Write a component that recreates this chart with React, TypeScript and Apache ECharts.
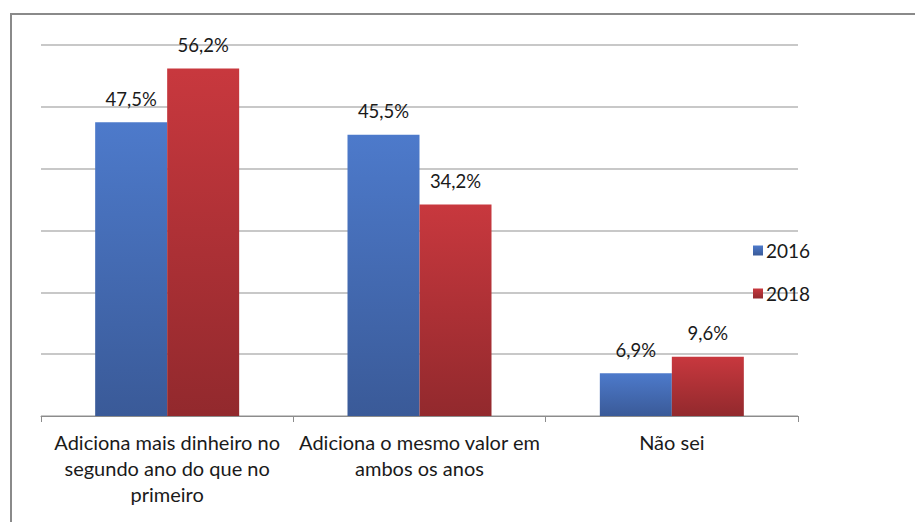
import React, { useEffect, useRef } from "react";
import * as echarts from "echarts";

const categories = [
  "Adiciona mais dinheiro no\nsegundo ano do que no\nprimeiro",
  "Adiciona o mesmo valor em\nambos os anos",
  "Não sei",
];
const seriesNames = ["2016", "2018"];
const values2016 = [47.5, 45.5, 6.9];
const values2018 = [56.2, 34.2, 9.6];

const FONT = "Lato, 'Open Sans', sans-serif";

export default function App() {
  const ref = useRef<HTMLDivElement>(null);
  useEffect(() => {
    const chart = echarts.init(ref.current!, null, { renderer: "svg" });
    const label = {
      show: true,
      position: "top",
      distance: 14,
      fontFamily: FONT,
      fontSize: 18.5,
      color: "#1a1a1a",
      formatter: (p: any) => p.value.toFixed(1).replace(".", ",") + "%",
    };
    chart.setOption({
      animation: false,
      backgroundColor: "#ffffff",
      grid: { left: 41, right: 117, top: 45, bottom: 106 },
      legend: {
        orient: "vertical",
        left: 748,
        top: 236,
        itemWidth: 10,
        itemHeight: 10,
        itemGap: 24,
        icon: "rect",
        textStyle: { fontFamily: FONT, fontSize: 19, color: "#1a1a1a", padding: [0, 0, 0, -2] },
        data: seriesNames,
      },
      xAxis: {
        type: "category",
        data: categories,
        axisLine: { lineStyle: { color: "#8c8c8c", width: 1 } },
        axisTick: { show: true, length: 6, lineStyle: { color: "#8c8c8c" } },
        axisLabel: {
          fontFamily: FONT,
          fontSize: 20,
          color: "#1a1a1a",
          lineHeight: 26,
          margin: 13,
          interval: 0,
        },
      },
      yAxis: {
        type: "value",
        min: 0,
        max: 60,
        interval: 10,
        axisLabel: { show: false },
        axisLine: { show: false },
        axisTick: { show: false },
        splitLine: { lineStyle: { color: "#c8c8c8", width: 2 } },
      },
      series: [
        {
          name: seriesNames[0],
          type: "bar",
          data: values2016,
          barWidth: 72,
          barGap: "0%",
          itemStyle: {
            color: new echarts.graphic.LinearGradient(0, 0, 0, 1, [
              { offset: 0, color: "#4d7acb" },
              { offset: 1, color: "#3a5a98" },
            ]),
          },
          label,
        },
        {
          name: seriesNames[1],
          type: "bar",
          data: values2018,
          barWidth: 72,
          itemStyle: {
            color: new echarts.graphic.LinearGradient(0, 0, 0, 1, [
              { offset: 0, color: "#c8383e" },
              { offset: 1, color: "#92292d" },
            ]),
          },
          label,
        },
      ],
      graphic: [
        {
          type: "rect",
          shape: { x: 11, y: 14, width: 1000, height: 600 },
          style: { fill: "none", stroke: "#8a8a8a", lineWidth: 2 },
          silent: true,
        },
      ],
    });
    return () => chart.dispose();
  }, []);
  return (
    <div
      ref={ref}
      style={{ position: "absolute", left: 0, top: 0, width: 915, height: 522 }}
    />
  );
}
